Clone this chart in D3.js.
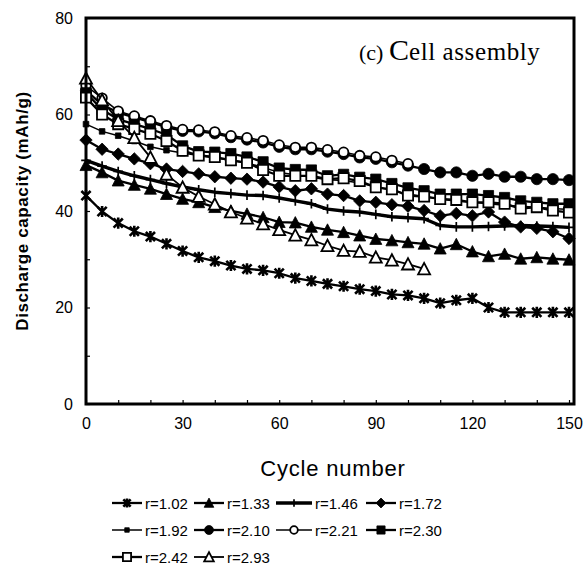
<!DOCTYPE html>
<html>
<head>
<meta charset="utf-8">
<script src="https://cdn.jsdelivr.net/npm/d3@7/dist/d3.min.js"></script>
<style>
  html, body { margin: 0; padding: 0; background: #fff; }
  svg { display: block; }
  .tick text { font-family: "Liberation Sans", Arial, sans-serif; font-size: 16px; fill: #000; }
</style>
</head>
<body>
<script>
// Cycle numbers at which capacity was recorded (every 5 cycles)
const cycles = d3.range(0, 151, 5);

// Discharge capacity (mAh/g) per composition ratio r
const r102 = [43.2,39.9,37.5,35.8,34.7,33.2,31.7,30.4,29.6,28.7,28.0, 27.7,27.1,26.1,25.5,24.9,24.4,23.8,23.4,22.7,22.5, 21.9,20.9,21.5,21.9,20.0,19.0,19.0,19.0,19.0,19.0];
const r133 = [49.5,48.0,46.3,45.4,44.6,43.5,42.5,41.8,40.8,40.0,39.4, 38.7,37.7,37.6,36.7,36.1,35.6,34.9,34.2,33.9,33.5, 33.2,32.2,33.1,31.6,30.6,31.1,30.1,30.4,30.1,29.9];
const r146 = [50.5,49.3,48.2,47.3,46.5,45.7,45.0,44.4,43.9,43.6,43.3, 43.2,42.7,42.1,41.5,40.4,40.0,39.8,39.3,38.8,38.6, 38.4,37.0,36.7,36.7,36.8,36.9,37.0,36.9,36.8,36.6];
const r172 = [54.7,52.8,51.8,50.8,49.8,48.7,48.2,47.7,47.1,46.8,46.6, 46.0,45.0,44.2,44.6,43.5,43.2,42.1,41.8,41.3,41.0, 40.1,39.0,39.5,39.0,39.8,37.7,36.7,36.4,35.7,34.3];
const r192 = [58.0,56.5,55.6,54.5,53.3,52.6,52.0,51.5,51.0,50.5,50.0, 49.0,48.0,47.5,47.0,46.5,46.3,45.8,45.0,44.3,43.5, 43.0,42.5,42.0,41.8,41.5,41.2,41.0,40.8,40.5,40.3];
const r210 = [65.0,62.0,60.4,59.4,58.4,57.4,56.6,56.5,56.1,55.3,54.8, 54.2,53.3,52.8,52.8,52.3,51.8,51.1,50.8,50.1,49.4, 48.7,48.0,48.0,47.3,47.7,47.1,47.1,46.6,46.6,46.4];
const r221 = [66.0,63.4,60.7,59.7,58.7,57.7,56.9,56.8,56.4,55.6,55.2, 54.6,53.7,53.2,53.2,52.7,52.2,51.5,51.2,50.5,49.8];
const r230 = [64.5,61.0,59.0,58.0,57.0,55.8,53.5,52.3,52.2,51.9,51.2, 50.2,48.9,48.6,48.5,47.3,47.6,47.0,46.6,45.7,44.8, 44.2,43.5,43.5,43.5,43.2,42.8,42.1,41.8,41.5,41.5];
const r242 = [63.5,60.0,58.0,57.0,56.0,54.5,52.5,51.5,51.2,50.5,50.0, 48.5,47.3,47.3,47.3,46.6,46.8,46.2,44.9,44.5,43.2, 43.0,42.5,42.3,41.8,41.8,41.5,40.5,40.8,40.1,39.7];
const r293 = [67.5,63.0,58.7,55.2,51.1,47.6,44.9,43.0,41.4,39.8,38.5, 37.3,36.1,35.0,34.0,32.8,31.8,31.6,30.4,29.8,29.0, 28.0];

const seriesNames = ["r=1.02","r=1.33","r=1.46","r=1.72","r=1.92","r=2.10","r=2.21","r=2.30","r=2.42","r=2.93"];
const seriesValues = [r102, r133, r146, r172, r192, r210, r221, r230, r242, r293];
const xTicks = [0, 30, 60, 90, 120, 150];
const yTicks = [0, 20, 40, 60, 80];

// marker styles
const markerDefs = [
  {kind: "asterisk", lw: 2.3},
  {kind: "triangle", fill: true, lw: 2.3},
  {kind: "plus", lw: 3.4},
  {kind: "diamond", fill: true, lw: 2.3},
  {kind: "smallsquare", fill: true, lw: 1.5},
  {kind: "circle", fill: true, lw: 2.3},
  {kind: "circle", fill: false, lw: 1.5},
  {kind: "square", fill: true, lw: 2.3},
  {kind: "square", fill: false, lw: 2.3},
  {kind: "triangle", fill: false, lw: 1.8}
];

const W = 585, H = 569;
const svg = d3.select("body").append("svg").attr("width", W).attr("height", H);

const x = d3.scaleLinear().domain([0, 150]).range([86, 569]);
const y = d3.scaleLinear().domain([0, 80]).range([404, 18]);

function markerPath(kind, s) {
  const k = s || 1;
  switch (kind) {
    case "asterisk": {
      const a = 5.6 * k, b = 4.6 * k;
      return `M${-b},${-b}L${b},${b}M${-b},${b}L${b},${-b}M0,${-a}V${a}`;
    }
    case "triangle": {
      const w = 6 * k, h = 5.4 * k;
      return `M0,${-h - 0.6}L${w},${h}L${-w},${h}Z`;
    }
    case "plus": {
      const a = 4.8 * k;
      return `M${-a},0H${a}M0,${-a}V${a}`;
    }
    case "diamond": {
      const a = 6.2 * k;
      return `M0,${-a}L${a},0L0,${a}L${-a},0Z`;
    }
    case "smallsquare": {
      const a = 2.8 * k;
      return `M${-a},${-a}H${a}V${a}H${-a}Z`;
    }
    case "circle": {
      const r = 5.6 * k;
      return `M${r},0A${r},${r},0,1,1,${-r},0A${r},${r},0,1,1,${r},0Z`;
    }
    case "square": {
      const a = 5.1 * k;
      return `M${-a},${-a}H${a}V${a}H${-a}Z`;
    }
  }
}

function drawMarker(g, def, px, py, scale) {
  const k = scale || 1;
  const p = g.append("path")
    .attr("transform", `translate(${px},${py})`)
    .attr("d", markerPath(def.kind, def.kind === "circle" && !def.fill ? 0.85 * k : k));
  if (def.kind === "asterisk") {
    p.attr("fill", "none").attr("stroke", "#000").attr("stroke-width", 2.6);
  } else if (def.kind === "plus") {
    p.attr("fill", "none").attr("stroke", "#000").attr("stroke-width", 1.7);
  } else if (def.fill) {
    p.attr("fill", "#000").attr("stroke", "#000").attr("stroke-width", 0.8);
  } else {
    p.attr("fill", "#fff").attr("stroke", "#000").attr("stroke-width", 1.8);
  }
}

// axes: labelled ticks outside, minor ticks pointing inward
const gx = svg.append("g").attr("transform", `translate(0,${y(0)})`)
  .call(d3.axisBottom(x).tickValues(xTicks).tickSize(0).tickPadding(14).tickFormat(d3.format("d")));
gx.select(".domain").remove();
svg.append("g").attr("transform", `translate(0,${y(0)})`)
  .call(d3.axisBottom(x).tickValues(d3.range(0, 151, 10)).tickSize(-4).tickFormat(""))
  .call(g => { g.select(".domain").remove(); g.selectAll("line").attr("stroke", "#000").attr("stroke-width", 1.2); });

const gy = svg.append("g").attr("transform", `translate(${x(0)},0)`)
  .call(d3.axisLeft(y).tickValues(yTicks).tickSize(0).tickPadding(13).tickFormat(d3.format("d")));
gy.select(".domain").remove();
svg.append("g").attr("transform", `translate(${x(0)},0)`)
  .call(d3.axisLeft(y).tickValues(d3.range(0, 81, 10)).tickSize(-4).tickFormat(""))
  .call(g => { g.select(".domain").remove(); g.selectAll("line").attr("stroke", "#000").attr("stroke-width", 1.2); });

// series lines and markers
const line = d3.line().x(d => x(d[0])).y(d => y(d[1]));
seriesValues.forEach((vals, i) => {
  const def = markerDefs[i];
  const pts = vals.map((v, j) => [cycles[j], v]);
  const g = svg.append("g");
  g.append("path").datum(pts).attr("d", line)
    .attr("fill", "none").attr("stroke", "#000").attr("stroke-width", def.lw)
    .attr("stroke-linejoin", "round");
  pts.forEach(p => drawMarker(g, def, x(p[0]), y(p[1])));
});

// plot frame
svg.append("rect").attr("x", 86).attr("y", 18).attr("width", 488).attr("height", 386)
  .attr("fill", "none").attr("stroke", "#000").attr("stroke-width", 3);

// panel caption
const cap = svg.append("text").attr("x", 359).attr("y", 60)
  .attr("font-family", "'Liberation Serif', 'Times New Roman', serif").attr("fill", "#000");
cap.append("tspan").attr("font-size", 22).text("(c) ");
cap.append("tspan").attr("font-size", 30).text("C");
cap.append("tspan").attr("font-size", 25).attr("letter-spacing", 0.6).text("ell  assembly");

// axis titles
svg.append("text")
  .attr("transform", "translate(28,211) rotate(-90)")
  .attr("text-anchor", "middle")
  .attr("font-family", "'Liberation Sans', Arial, sans-serif")
  .attr("font-size", 17).attr("font-weight", "bold").attr("letter-spacing", 0.6)
  .text("Discharge capacity (mAh/g)");

svg.append("text")
  .attr("x", 333).attr("y", 476)
  .attr("text-anchor", "middle")
  .attr("font-family", "'Liberation Sans', Arial, sans-serif")
  .attr("font-size", 22).attr("letter-spacing", 0.8)
  .text("Cycle number");

// legend
const legX = [112, 194, 276, 366];
const legY = [503, 530, 557];
seriesNames.forEach((name, i) => {
  const def = markerDefs[i];
  const col = i % 4, row = Math.floor(i / 4);
  const lx = legX[col], ly = legY[row];
  const len = col === 2 ? 36 : 30;
  const g = svg.append("g");
  g.append("line").attr("x1", lx).attr("x2", lx + len).attr("y1", ly).attr("y2", ly)
    .attr("stroke", "#000").attr("stroke-width", def.lw);
  drawMarker(g, def, lx + len / 2, ly, 0.8);
  g.append("text").attr("x", lx + len + 3).attr("y", ly + 5.5)
    .attr("font-family", "'Liberation Sans', Arial, sans-serif")
    .attr("font-size", 15).attr("fill", "#000")
    .text(name);
});
</script>
</body>
</html>
